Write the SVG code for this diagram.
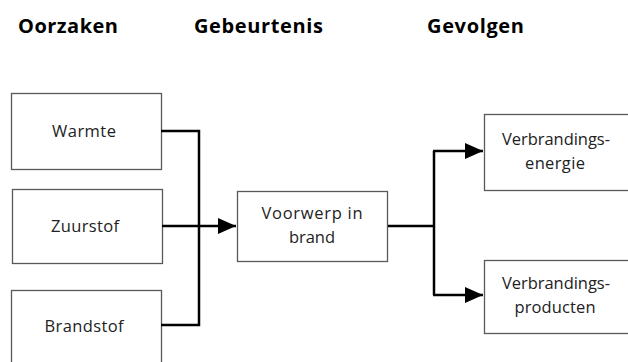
<svg xmlns="http://www.w3.org/2000/svg" width="628" height="362" viewBox="0 0 628 362">
<style>
.t{font-family:"Open Sans","Noto Sans",sans-serif;font-weight:bold;font-size:20px;fill:#000}
.b{fill:#fff;stroke:#595959;stroke-width:1.3}
.l{font-family:"Open Sans","Noto Sans",sans-serif;font-size:16.5px;fill:#222;text-anchor:middle}
.c{fill:none;stroke:#000;stroke-width:2.5}
</style>
<defs>
<marker id="ah" viewBox="0 0 18 16" refX="18" refY="8" markerWidth="18" markerHeight="16" markerUnits="userSpaceOnUse" orient="auto">
<path d="M0,0 L18,8 L0,16 Z" fill="#000"/>
</marker>
</defs>
<rect width="628" height="362" fill="#fff"/>
<text class="t" x="18" y="33" textLength="100">Oorzaken</text>
<text class="t" x="194" y="33" textLength="129">Gebeurtenis</text>
<text class="t" x="427" y="33" textLength="97">Gevolgen</text>
<g id="warmte"><rect class="b" x="11.5" y="93.5" width="150" height="76"/><text class="l" x="84" y="137" textLength="64">Warmte</text></g>
<g id="zuurstof"><rect class="b" x="12.5" y="189.5" width="150" height="74"/><text class="l" x="85" y="232" textLength="68">Zuurstof</text></g>
<g id="brandstof"><rect class="b" x="11.5" y="290.5" width="150" height="80"/><text class="l" x="84" y="332" textLength="79">Brandstof</text></g>
<g id="voorwerp"><rect class="b" x="237.5" y="191.5" width="150" height="70"/><text class="l" x="312" y="219" textLength="101">Voorwerp  in</text><text class="l" x="312" y="243" textLength="46">brand</text></g>
<g id="energie"><rect class="b" x="484.5" y="114.5" width="150" height="76"/><text class="l" x="556" y="145" textLength="108">Verbrandings-</text><text class="l" x="555" y="169" textLength="60">energie</text></g>
<g id="producten"><rect class="b" x="484.5" y="260.5" width="150" height="73"/><text class="l" x="556" y="289" textLength="108">Verbrandings-</text><text class="l" x="555" y="313" textLength="81">producten</text></g>
<g id="connectors">
<path class="c" d="M161,131 H199 V325 H161"/>
<path class="c" d="M162,226 H236" marker-end="url(#ah)"/>
<path class="c" d="M388,226 H434"/>
<path class="c" d="M434,151 V295"/>
<path class="c" d="M433,151 H483" marker-end="url(#ah)"/>
<path class="c" d="M433,295 H483" marker-end="url(#ah)"/>
</g>
</svg>
